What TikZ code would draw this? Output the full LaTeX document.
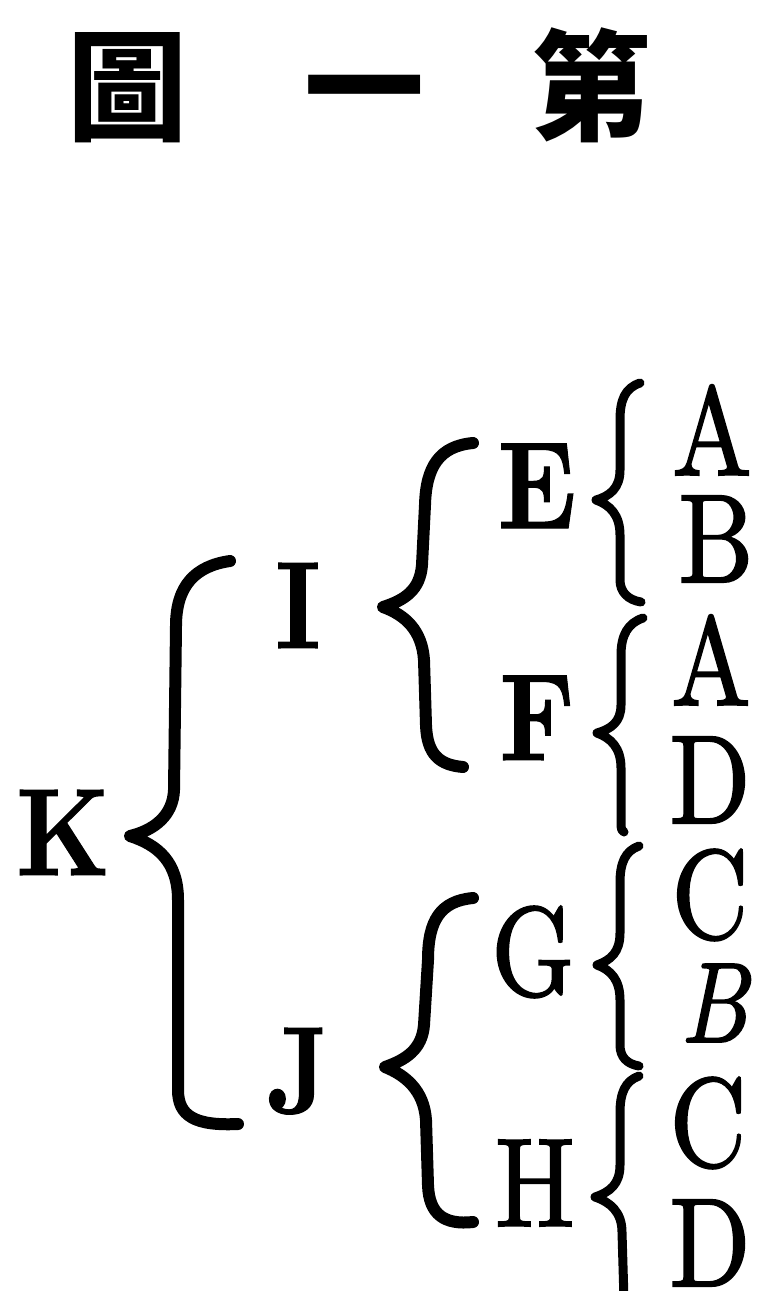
\documentclass[tikz,border=0pt]{standalone}
\usepackage{fontspec}
\usepackage{graphicx}
\newfontfamily\cjk{Noto Sans CJK TC}
\newfontfamily\medfont{lmroman10-regular.otf}[FakeBold=1.6]
\newfontfamily\meditfont{lmroman10-italic.otf}[FakeBold=1.6]
\newfontfamily\hvyfont{lmroman10-bold.otf}[FakeBold=1]
\newcommand{\nx}[1]{\scalebox{0.84}[1]{#1}}
\tikzset{
  bigbrace/.style={line width=6pt, line cap=round, line join=round},
  smallbrace/.style={line width=4.5pt, line cap=round, line join=round},
  boldlet/.style={anchor=base, inner sep=0pt, font=\hvyfont\fontsize{62}{62}\selectfont},
  reglet/.style={anchor=base, inner sep=0pt, font=\medfont\fontsize{63}{63}\selectfont},
  titlech/.style={anchor=base, inner sep=0pt, font=\cjk\bfseries\fontsize{60}{60}\selectfont},
}
\begin{document}
\begin{tikzpicture}[x=0.5pt,y=-0.5pt]
\useasboundingbox (0,0) rectangle (764,1291);
% title
\node[titlech] (t1) at (128,131) {圖};
\node[titlech] (t2) at (364,131) {一};
\node[titlech] (t3) at (591,131) {第};
% bold letters
\node[boldlet] (K) at (63,875) {\nx{K}};
\node[boldlet] (I) at (298,648) {\nx{I}};
\node[boldlet] (J) at (298,1113) {\nx{J}};
\node[boldlet] (E) at (537,528) {\nx{E}};
\node[boldlet] (F) at (537,760) {\nx{F}};
\node[reglet] (G) at (533,995) {\nx{G}};
\node[reglet] (H) at (535,1226) {\nx{H}};
% leaves
\node[reglet] (a1) at (712,475) {\nx{A}};
\node[reglet] (b1) at (716,582) {\nx{B}};
\node[reglet] (a2) at (711,705) {\nx{A}};
\node[reglet] (d1) at (710,823) {\nx{D}};
\node[reglet] (c1) at (710,938) {\nx{C}};
\node[reglet,font=\meditfont\fontsize{57}{57}\selectfont] (b2) at (714,1042) {\nx{B}};
\node[reglet] (c2) at (708,1166) {\nx{C}};
\node[reglet] (d2) at (710,1286) {\nx{D}};
% K brace
\draw[bigbrace] (230,561) .. controls (195,566) and (176,586) .. (176,626)
  -- (174,790) .. controls (173,815) and (155,830) .. (130,836)
  .. controls (158,845) and (178,862) .. (178,900)
  -- (178,1090) .. controls (178,1116) and (195,1126) .. (238,1124);
% I brace
\draw[bigbrace] (473,443) .. controls (440,446) and (426,466) .. (425,505)
  -- (422,565) .. controls (420,590) and (405,600) .. (383,607)
  .. controls (405,615) and (422,630) .. (424,660)
  -- (426,725) .. controls (427,755) and (440,765) .. (463,767);
% J brace
\draw[bigbrace] (473,898) .. controls (440,901) and (428,921) .. (428,960)
  -- (424,1025) .. controls (422,1050) and (405,1060) .. (385,1067)
  .. controls (405,1075) and (424,1090) .. (426,1120)
  -- (428,1185) .. controls (429,1215) and (445,1225) .. (473,1222);
% E brace
\draw[smallbrace] (640,383) .. controls (625,388) and (620,400) .. (620,420)
  -- (620,470) .. controls (620,488) and (610,496) .. (596,500)
  .. controls (610,505) and (620,515) .. (620,535)
  -- (620,580) .. controls (620,592) and (628,600) .. (641,602);
% F brace
\draw[smallbrace] (643,618) .. controls (628,623) and (621,635) .. (621,655)
  -- (621,705) .. controls (621,722) and (611,729) .. (597,733)
  .. controls (611,738) and (621,748) .. (621,768)
  -- (621,826) .. controls (621,829) and (622,831) .. (624,832);
% G brace
\draw[smallbrace] (639,846) .. controls (625,851) and (620,863) .. (620,883)
  -- (620,933) .. controls (620,952) and (611,960) .. (597,965)
  .. controls (611,970) and (620,980) .. (620,1000)
  -- (620,1045) .. controls (620,1057) and (627,1064) .. (639,1066);
% H brace
\draw[smallbrace] (639,1076) .. controls (625,1081) and (620,1093) .. (620,1113)
  -- (620,1165) .. controls (620,1184) and (610,1192) .. (595,1197)
  .. controls (610,1202) and (622,1212) .. (622,1232)
  -- (624,1300);
\end{tikzpicture}
\end{document}
